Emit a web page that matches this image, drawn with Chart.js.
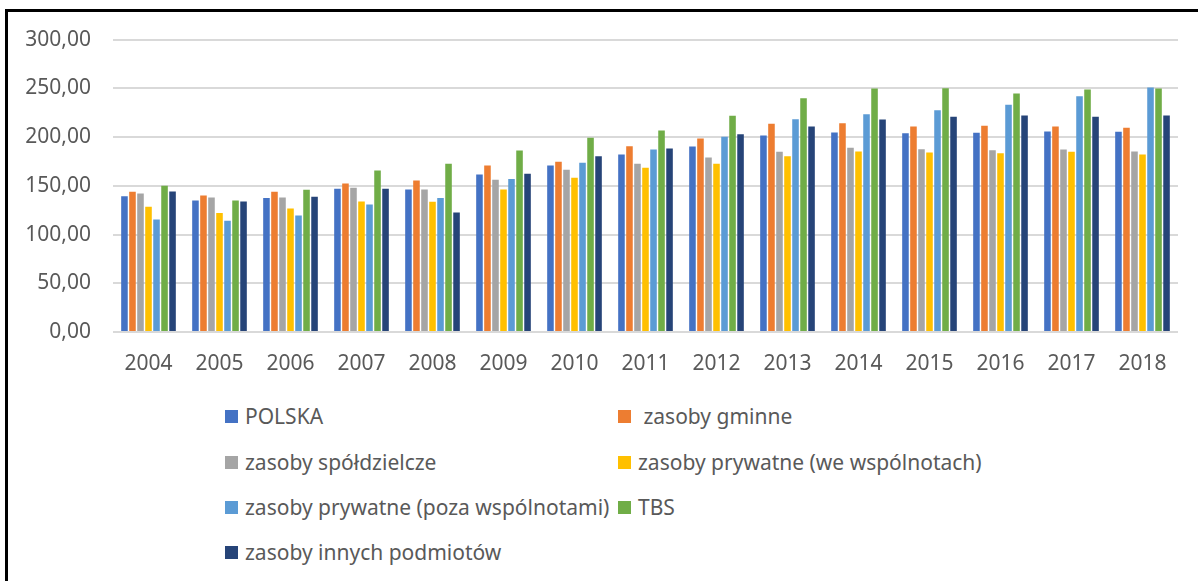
<!DOCTYPE html>
<html>
<head>
<meta charset="utf-8">
<script src="https://cdn.jsdelivr.net/npm/chart.js@4/dist/chart.umd.min.js"></script>
<style>
  html, body { margin: 0; padding: 0; background: #fff; }
  body { width: 1198px; height: 581px; position: relative; overflow: hidden; font-family: 'Noto Sans', sans-serif; }
  .frame { position: absolute; left: 5px; top: 9px; width: 1400px; height: 800px; border-top: 3px solid #000; border-left: 3px solid #000; }
  .wrap { position: absolute; left: 0; top: 5px; width: 1198px; height: 385px; }
  .leg-item { position: absolute; display: flex; align-items: center; color: #595959; font-size: 21px; white-space: pre; }
  .leg-box { width: 13px; height: 13px; margin-right: 7px; flex: none; }
</style>
</head>
<body>
<div class="frame"></div>
<div class="wrap"><canvas id="c"></canvas></div>
<div id="legend"></div>
<script>
var years = ['2004','2005','2006','2007','2008','2009','2010','2011','2012','2013','2014','2015','2016','2017','2018'];

var polska      = [139.4,135.0,137.4,147.0,146.3,161.7,170.9,182.2,190.4,201.6,204.7,204.0,204.4,205.7,205.4];
var gminne      = [143.9,140.1,143.9,152.4,155.5,170.9,174.6,190.7,198.6,213.6,214.3,210.9,211.5,210.9,209.5];
var spoldzielcze= [142.2,138.1,138.1,148.0,146.3,156.2,166.4,172.6,179.1,184.9,189.0,187.6,186.6,187.3,185.2];
var weWspolnot  = [128.5,122.0,126.8,134.0,133.6,146.3,158.2,168.5,172.6,180.4,185.2,184.2,183.5,184.9,182.2];
var pozaWspolnot= [115.5,114.1,119.6,130.9,137.4,156.9,173.6,187.3,200.3,218.4,223.5,227.6,233.1,242.0,250.9];
var tbs         = [150.0,135.0,145.9,165.8,172.6,186.3,199.2,206.8,221.8,239.9,249.8,250.2,244.7,248.8,249.8];
var inni        = [144.2,134.0,138.8,147.0,122.7,162.3,180.4,188.3,203.0,210.9,218.0,220.8,222.1,220.8,222.1];

var seriesNames = ['POLSKA',' zasoby gminne','zasoby spółdzielcze','zasoby prywatne (we wspólnotach)','zasoby prywatne (poza wspólnotami)','TBS','zasoby innych podmiotów'];
var seriesData = [polska, gminne, spoldzielcze, weWspolnot, pozaWspolnot, tbs, inni];
var seriesColors = ['#4472C4','#ED7D31','#A5A5A5','#FFC000','#5B9BD5','#70AD47','#264478'];
var yTicks = [0,50,100,150,200,250,300];

var datasets = seriesNames.map(function(n, i) {
  return {
    label: n,
    data: seriesData[i],
    backgroundColor: seriesColors[i],
    borderWidth: 0,
    categoryPercentage: 0.79,
    barPercentage: 0.82
  };
});

var ctx = document.getElementById('c').getContext('2d');
var chart = new Chart(ctx, {
  type: 'bar',
  data: { labels: years, datasets: datasets },
  options: {
    responsive: true, maintainAspectRatio: false, animation: false,
    layout: { padding: { left: 20, right: 20, top: 28, bottom: 0 } },
    plugins: { legend: { display: false }, tooltip: { enabled: false } },
    scales: {
      x: {
        grid: { display: false },
        border: { display: false },
        ticks: { color: '#595959', font: { family: 'Noto Sans', size: 21 }, padding: 11, maxRotation: 0 },
        afterFit: function(s) { s.height = 58; }
      },
      y: {
        min: 0, max: 300,
        afterBuildTicks: function(s) { s.ticks = yTicks.map(function(v) { return { value: v }; }); },
        grid: { color: '#d9d9d9', lineWidth: 2, drawTicks: false },
        border: { display: false },
        ticks: {
          color: '#595959', font: { family: 'Noto Sans', size: 21 }, padding: 22,
          callback: function(v) { return Number(v).toFixed(2).replace('.', ','); }
        },
        afterFit: function(s) { s.width = 93; }
      }
    }
  }
});

// legend in two columns, like the original
var colX = [225, 618];
var rowY = [416, 462, 507, 552];
var lg = '';
chart.data.datasets.forEach(function(d, i) {
  var col = i % 2, row = Math.floor(i / 2);
  lg += '<div class="leg-item" style="left:' + colX[col] + 'px;top:' + (rowY[row] - 14) + 'px;height:28px">';
  lg += '<span class="leg-box" style="background:' + d.backgroundColor + '"></span>' + d.label + '</div>';
});
document.getElementById('legend').innerHTML = lg;
</script>
</body>
</html>
